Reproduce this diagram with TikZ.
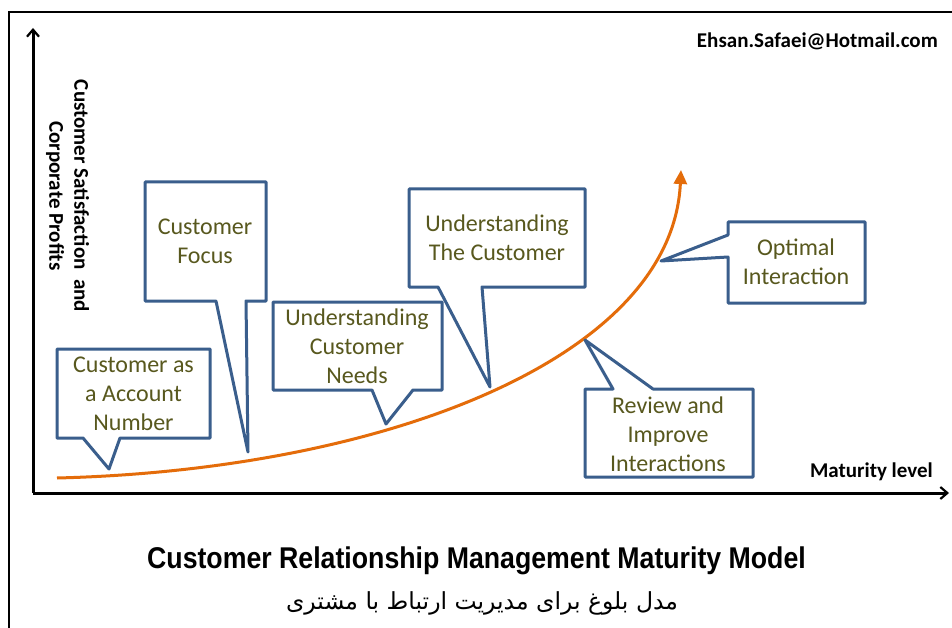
\documentclass[tikz,border=0pt]{standalone}
\usepackage{fontspec}
\setmainfont{Carlito}
\newfontfamily\calibri{Carlito}
\newfontfamily\titlefont[FakeStretch=0.89]{Liberation Sans}
\newfontfamily\arabicfont[Script=Arabic]{DejaVu Sans}
\TeXXeTstate=1
\usetikzlibrary{arrows.meta}
\definecolor{boxblue}{HTML}{3A5E8C}
\definecolor{olivetxt}{RGB}{88,88,30}
\definecolor{curveorange}{HTML}{E46C0A}
\tikzset{
  callout/.style={draw=boxblue, line width=3pt, fill=white, line join=round},
  boxtext/.style={font=\calibri\fontsize{24}{29}\selectfont, text=olivetxt, align=center, inner sep=0pt},
  axis/.style={line width=3pt, -{Straight Barb[length=7pt,width=12pt,line width=2.2pt]}},
  labeltext/.style={font=\calibri\bfseries\fontsize{21}{25}\selectfont, text=black, inner sep=0pt}
}
\begin{document}
\begin{tikzpicture}[x=1pt,y=-1pt]
\useasboundingbox (0,0) rectangle (952,628);
\fill[white] (0,0) rectangle (952,628);
% frame
\draw[line width=2.2pt] (9,628) -- (9,12) -- (952,12);
% axes
\coordinate (origin) at (33,493);
\coordinate (ytop) at (33,28);
\coordinate (xend) at (949,493);
\draw[axis] (origin) -- (ytop);
\draw[axis] (origin) -- (xend);
% growth curve
\coordinate (cstart) at (57,478);
\coordinate (cend) at (681,170);
\draw[curveorange, line width=3pt, -{Triangle[length=14pt,width=13pt]}]
  (cstart) .. controls (380,470) and (672,360) .. (cend);
% callouts
\draw[callout] (57,349) -- (210,349) -- (210,438) -- (120,438) -- (109,469) -- (83,438) -- (57,438) -- cycle;
\draw[callout] (145,182) -- (266,182) -- (266,301) -- (246,301) -- (248,452) -- (216,301) -- (145,301) -- cycle;
\draw[callout] (273,302) -- (442,302) -- (442,390) -- (413,390) -- (386,424) -- (372,390) -- (273,390) -- cycle;
\draw[callout] (409,189) -- (585,189) -- (585,287) -- (482,287) -- (490,387) -- (438,287) -- (409,287) -- cycle;
\draw[callout] (728,222) -- (865,222) -- (865,303) -- (728,303) -- (728,257) -- (661,261) -- (728,235) -- cycle;
\draw[callout] (585,389) -- (613,389) -- (585,340) -- (653,389) -- (753,389) -- (753,477) -- (585,477) -- cycle;
% callout texts
\node[boxtext] (t1) at (133.5,394) {Customer as\\a Account\\Number};
\node[boxtext] (t2) at (205,241.5) {Customer\\Focus};
\node[boxtext] (t3) at (357,346) {Understanding\\Customer\\Needs};
\node[boxtext] (t4) at (497,237.5) {Understanding\\The Customer};
\node[boxtext] (t5) at (796,261.5) {Optimal\\Interaction};
\node[boxtext] (t6) at (668,434) {Review and\\Improve\\Interactions};
% labels
\node[labeltext, anchor=east] (email) at (938,41) {Ehsan.Safaei@Hotmail.com};
\node[labeltext, anchor=east] (xlabel) at (933,472) {Maturity level};
\node[labeltext, rotate=-90, align=center] (ylabel) at (67.5,196) {Customer Satisfaction\ \ and\\Corporate Profits};
% titles
\node[font=\titlefont\bfseries\fontsize{30}{33}\selectfont, inner sep=0pt] (title) at (476.5,561) {Customer Relationship Management Maturity Model};
\node[font=\arabicfont\fontsize{23.5}{28}\selectfont, inner sep=0pt] (subtitle) at (482,603) {\beginR مدل بلوغ برای مدیریت ارتباط با مشتری\endR};
\end{tikzpicture}
\end{document}
